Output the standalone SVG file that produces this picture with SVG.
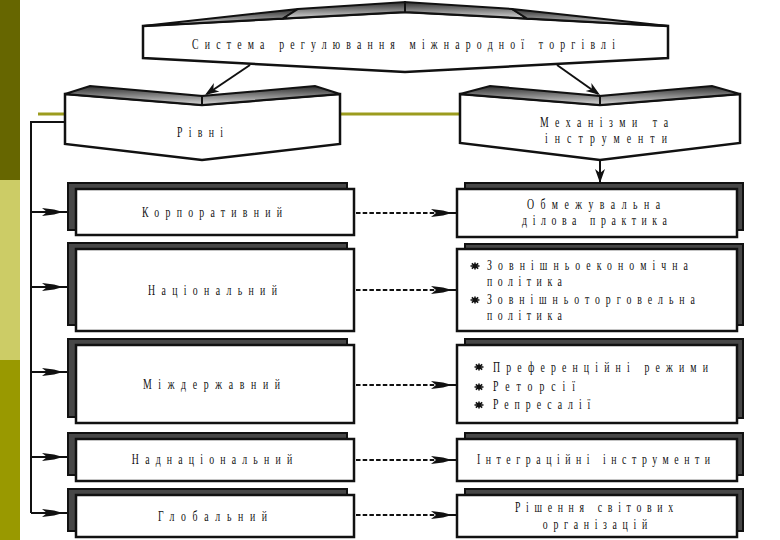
<svg xmlns="http://www.w3.org/2000/svg" xmlns:xlink="http://www.w3.org/1999/xlink" width="780" height="540" viewBox="0 0 780 540">
<style>
.face{fill:#fff;stroke:#111;stroke-width:2.5;stroke-linejoin:miter}
.roof{fill:url(#roofGrad);stroke:#111;stroke-width:2;stroke-linejoin:miter}
.shadow{fill:#474747;stroke:#111;stroke-width:2}
.box{fill:#fff;stroke:#111;stroke-width:2.5}
.t{font-family:"Liberation Serif","DejaVu Serif",serif;font-size:14px;fill:#111}
.ln{stroke:#111;stroke-width:2;fill:none}
.dash{stroke:#111;stroke-width:2.2;fill:none;stroke-dasharray:4.5 2.2}
.head{fill:#111}
</style>
<defs>
<linearGradient id="roofGrad" x1="0" y1="0" x2="0" y2="1">
<stop offset="0" stop-color="#2e2e2e"/>
<stop offset="1" stop-color="#d8d8d8"/>
</linearGradient>
<path id="dart" d="M0,0 L-9,-2.6 L-21,-4 L-16,0 L-21,4 L-9,2.6 Z"/>
<path id="tri" d="M0,0 L-14,-5 L-10,0 L-14,5 Z"/>
<g id="star">
<path d="M-4.5,0 H4.5 M0,-3.5 V3.5 M-3.2,-2.6 L3.2,2.6 M-3.2,2.6 L3.2,-2.6" stroke="#111" stroke-width="1.6"/>
<circle r="1.8" fill="#111"/>
</g>
</defs>

<!-- background decoration -->
<rect x="0" y="0" width="20" height="180" fill="#666600"/>
<rect x="0" y="180" width="20" height="180" fill="#cccc66"/>
<rect x="0" y="360" width="20" height="180" fill="#999900"/>
<line x1="38" y1="114" x2="460" y2="114" stroke="#9c9c1e" stroke-width="3"/>

<!-- nodes -->
<g id="node-system">
<polygon class="face" points="143,26 405,12 668,26 668,58 405,72 143,58"/>
<polygon class="roof" points="143,26 298,9 283,18.5"/>
<polygon class="roof" points="283,18.5 298,9 405,2 405,12"/>
<polygon class="roof" points="405,12 405,2 512,9 527,18.5"/>
<polygon class="roof" points="527,18.5 512,9 668,26"/>
<text class="t" transform="translate(403.5,49) scale(0.7,1)" text-anchor="middle" textLength="604" lengthAdjust="spacing">Система регулювання міжнародної торгівлі</text>
</g>

<g id="node-levels">
<polygon class="face" points="65,94 202,105 340,94 340,144 202,160 65,144"/>
<polygon class="roof" points="65,94 90,86 202,96 202,105"/>
<polygon class="roof" points="202,105 202,96 315,86 340,94"/>
<text class="t" transform="translate(200,137) scale(0.7,1)" text-anchor="middle" textLength="66" lengthAdjust="spacing">Рівні</text>
</g>

<g id="node-mechanisms">
<polygon class="face" points="460,94 600,105 740,94 740,143 600,160 460,143"/>
<polygon class="roof" points="460,94 490,86 600,96 600,105"/>
<polygon class="roof" points="600,105 600,96 712,86 740,94"/>
<text class="t" transform="translate(604,127) scale(0.7,1)" text-anchor="middle" textLength="183" lengthAdjust="spacing">Механізми та</text>
<text class="t" transform="translate(606,143) scale(0.7,1)" text-anchor="middle" textLength="174" lengthAdjust="spacing">інструменти</text>
</g>

<g id="level-corporate">
<rect class="shadow" x="68" y="183" width="279" height="47"/>
<rect class="box" x="76" y="189" width="278" height="46"/>
<text class="t" transform="translate(212,217) scale(0.7,1)" text-anchor="middle" textLength="200" lengthAdjust="spacing">Корпоративний</text>
</g>
<g id="level-national">
<rect class="shadow" x="68" y="243" width="279" height="82"/>
<rect class="box" x="76" y="249" width="278" height="82"/>
<text class="t" transform="translate(212.5,295) scale(0.7,1)" text-anchor="middle" textLength="184" lengthAdjust="spacing">Національний</text>
</g>
<g id="level-interstate">
<rect class="shadow" x="68" y="339" width="279" height="78"/>
<rect class="box" x="76" y="345" width="278" height="78"/>
<text class="t" transform="translate(211.5,389) scale(0.7,1)" text-anchor="middle" textLength="196" lengthAdjust="spacing">Міждержавний</text>
</g>
<g id="level-supranational">
<rect class="shadow" x="68" y="433" width="279" height="42"/>
<rect class="box" x="76" y="439" width="278" height="42"/>
<text class="t" transform="translate(212,464) scale(0.7,1)" text-anchor="middle" textLength="229" lengthAdjust="spacing">Наднаціональний</text>
</g>
<g id="level-global">
<rect class="shadow" x="68" y="489" width="279" height="42"/>
<rect class="box" x="76" y="495" width="278" height="42"/>
<text class="t" transform="translate(212.5,521) scale(0.7,1)" text-anchor="middle" textLength="156" lengthAdjust="spacing">Глобальний</text>
</g>

<g id="tool-business">
<rect class="shadow" x="465" y="183" width="278" height="47"/>
<rect class="box" x="457" y="189" width="280" height="48"/>
<text class="t" transform="translate(593.5,209) scale(0.7,1)" text-anchor="middle" textLength="190" lengthAdjust="spacing">Обмежувальна</text>
<text class="t" transform="translate(594.5,225) scale(0.7,1)" text-anchor="middle" textLength="207" lengthAdjust="spacing">ділова практика</text>
</g>
<g id="tool-policy">
<rect class="shadow" x="465" y="244" width="278" height="81"/>
<rect class="box" x="457" y="249" width="280" height="82"/>
<use xlink:href="#star" x="475" y="266"/>
<use xlink:href="#star" x="475" y="300"/>
<text class="t" transform="translate(487,270) scale(0.7,1)" textLength="287" lengthAdjust="spacing">Зовнішньоекономічна</text>
<text class="t" transform="translate(487,286) scale(0.7,1)" textLength="107" lengthAdjust="spacing">політика</text>
<text class="t" transform="translate(487,304) scale(0.7,1)" textLength="297" lengthAdjust="spacing">Зовнішньоторговельна</text>
<text class="t" transform="translate(487,320) scale(0.7,1)" textLength="107" lengthAdjust="spacing">політика</text>
</g>
<g id="tool-regimes">
<rect class="shadow" x="465" y="339" width="278" height="79"/>
<rect class="box" x="457" y="345" width="280" height="78"/>
<use xlink:href="#star" x="479" y="367"/>
<use xlink:href="#star" x="479" y="387"/>
<use xlink:href="#star" x="479" y="405"/>
<text class="t" transform="translate(493,372) scale(0.7,1)" textLength="307" lengthAdjust="spacing">Преференційні режими</text>
<text class="t" transform="translate(493,391) scale(0.7,1)" textLength="117" lengthAdjust="spacing">Реторсії</text>
<text class="t" transform="translate(493,409) scale(0.7,1)" textLength="139" lengthAdjust="spacing">Репресалії</text>
</g>
<g id="tool-integration">
<rect class="shadow" x="465" y="433" width="278" height="42"/>
<rect class="box" x="457" y="439" width="280" height="42"/>
<text class="t" transform="translate(593.5,464) scale(0.7,1)" text-anchor="middle" textLength="333" lengthAdjust="spacing">Інтеграційні інструменти</text>
</g>
<g id="tool-world">
<rect class="shadow" x="465" y="489" width="278" height="42"/>
<rect class="box" x="457" y="495" width="280" height="42"/>
<text class="t" transform="translate(594,512) scale(0.7,1)" text-anchor="middle" textLength="226" lengthAdjust="spacing">Рішення світових</text>
<text class="t" transform="translate(595,529) scale(0.7,1)" text-anchor="middle" textLength="149" lengthAdjust="spacing">організацій</text>
</g>

<!-- connectors -->
<g id="connectors">
<line class="ln" x1="250" y1="65" x2="207" y2="94"/>
<use xlink:href="#tri" class="head" transform="translate(205,95) rotate(146.3)"/>
<line class="ln" x1="557" y1="65" x2="598" y2="94"/>
<use xlink:href="#tri" class="head" transform="translate(600,95) rotate(34.9)"/>
<line class="ln" x1="600" y1="160" x2="600" y2="182"/>
<use xlink:href="#tri" class="head" transform="translate(600,183) rotate(90)"/>

<polyline class="ln" points="65,122 31,122 31,513"/>
<line class="ln" x1="31" y1="212" x2="68" y2="212"/>
<line class="ln" x1="31" y1="287" x2="68" y2="287"/>
<line class="ln" x1="31" y1="372" x2="68" y2="372"/>
<line class="ln" x1="31" y1="457" x2="68" y2="457"/>
<line class="ln" x1="31" y1="513" x2="68" y2="513"/>
<use xlink:href="#dart" class="head" x="63" y="212"/>
<use xlink:href="#dart" class="head" x="63" y="287"/>
<use xlink:href="#dart" class="head" x="63" y="372"/>
<use xlink:href="#dart" class="head" x="63" y="457"/>
<use xlink:href="#dart" class="head" x="63" y="513"/>

<line class="dash" x1="356" y1="213" x2="440" y2="213"/>
<line class="dash" x1="356" y1="290" x2="440" y2="290"/>
<line class="dash" x1="356" y1="385" x2="440" y2="385"/>
<line class="dash" x1="356" y1="460" x2="440" y2="460"/>
<line class="dash" x1="356" y1="515" x2="440" y2="515"/>
<line class="ln" x1="440" y1="213" x2="457" y2="213"/>
<line class="ln" x1="440" y1="290" x2="457" y2="290"/>
<line class="ln" x1="440" y1="385" x2="457" y2="385"/>
<line class="ln" x1="440" y1="460" x2="457" y2="460"/>
<line class="ln" x1="440" y1="515" x2="457" y2="515"/>
<use xlink:href="#dart" class="head" x="452" y="213"/>
<use xlink:href="#dart" class="head" x="452" y="290"/>
<use xlink:href="#dart" class="head" x="452" y="385"/>
<use xlink:href="#dart" class="head" x="452" y="460"/>
<use xlink:href="#dart" class="head" x="452" y="515"/>
</g>
</svg>
